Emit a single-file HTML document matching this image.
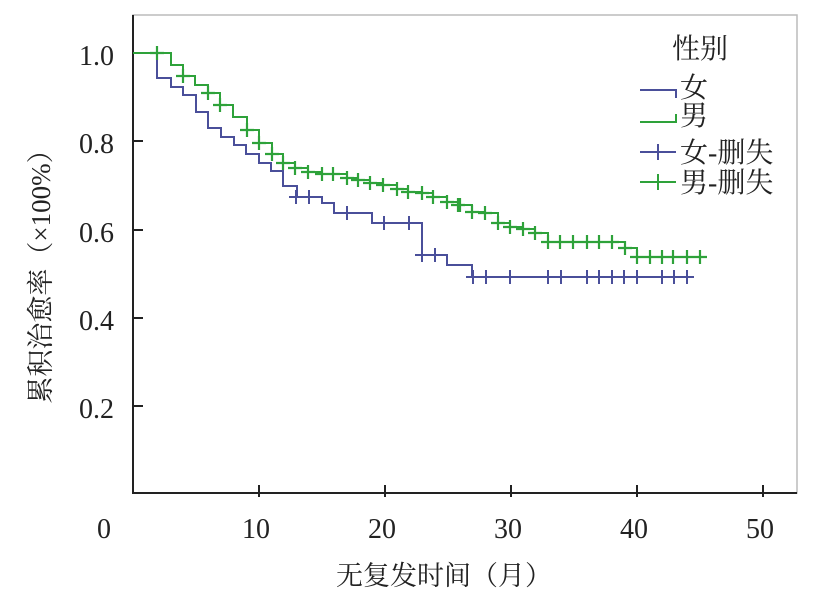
<!DOCTYPE html>
<html><head><meta charset="utf-8"><style>
html,body{margin:0;padding:0;background:#fff;}
svg{display:block;}
text{font-family:"Liberation Serif","Noto Serif CJK SC",serif;fill:#222;}
.c{font-family:"Liberation Serif","Noto Serif CJK SC",serif;}
</style></head><body>
<svg width="827" height="606" viewBox="0 0 827 606" xmlns="http://www.w3.org/2000/svg">
<rect x="133" y="15" width="664" height="478" fill="none" stroke="#bbb" stroke-width="1.5"/>
<line x1="133" y1="15" x2="133" y2="494" stroke="#222" stroke-width="2"/>
<line x1="132" y1="493" x2="797" y2="493" stroke="#222" stroke-width="2"/>
<g stroke="#222" stroke-width="2">
<line x1="133" y1="53" x2="143" y2="53"/><line x1="133" y1="141" x2="143" y2="141"/><line x1="133" y1="230" x2="143" y2="230"/><line x1="133" y1="318" x2="143" y2="318"/><line x1="133" y1="406" x2="143" y2="406"/>
<line x1="259" y1="485" x2="259" y2="497"/><line x1="385" y1="485" x2="385" y2="497"/><line x1="511" y1="485" x2="511" y2="497"/><line x1="637" y1="485" x2="637" y2="497"/><line x1="763" y1="485" x2="763" y2="497"/>
</g>
<g font-size="28" text-anchor="end">
<text x="114" y="65">1.0</text><text x="114" y="153">0.8</text><text x="114" y="242">0.6</text><text x="114" y="330">0.4</text><text x="114" y="418">0.2</text>
</g>
<g font-size="28" text-anchor="middle">
<text x="104" y="538">0</text><text x="256" y="538">10</text><text x="382" y="538">20</text><text x="508" y="538">30</text><text x="634" y="538">40</text><text x="760" y="538">50</text>
</g>
<text class="c" x="444" y="585" font-size="27" text-anchor="middle">无复发时间（月）</text>
<text class="c" transform="translate(50,270) rotate(-90)" font-size="27" text-anchor="middle">累积治愈率（×100%）</text>
<!-- blue -->
<path fill="none" stroke="#4a4f9a" stroke-width="2" d="M133,53 H157 V78 H171 V87 H183 V95 H196 V112 H208 V128 H221 V137 H234 V145 H246 V154 H259 V163 H271 V171 H283 V186 H297 V197 H322 V203 H334 V213 H372 V223 H422 V255 H447 V265 H472 V277 H690"/>
<g stroke="#4a4f9a" stroke-width="2">
<path d="M296,190v14M309,190v14M347,206v14M384,216v14M409,216v14M422,248v14M435,248v14M473,270v14M486,270v14M510,270v14M548,270v14M561,270v14M587,270v14M599,270v14M612,270v14M624,270v14M637,270v14M662,270v14M674,270v14M687,270v14"/>
</g>
<!-- green -->
<path fill="none" stroke="#2ea23a" stroke-width="2" d="M133,53 H171 V65 H183 V76 H195 V85 H208 V93 H220 V105 H233 V117 H247 V130 H259 V143 H272 V154 H283 V163 H295 V168 H308 V172 H322 V174 H347 V178 H358 V180 H370 V183 H383 V185 H397 V189 H408 V192 H422 V193 H433 V197 H447 V202 H460 V205 H472 V212 H485 V213 H498 V223 H510 V227 H523 V229 H535 V233 H548 V242 H625 V248 H637 V257 H703"/>
<g stroke="#2ea23a" stroke-width="2.2">
<path d="M157,46v14M183,69v14M208,86v14M220,98v14M247,123v14M259,136v14M272,147v14M283,156v14M295,161v14M308,165v14M322,167v14M333,167v14M347,171v14M358,173v14M370,176v14M383,178v14M397,182v14M408,185v14M422,186v14M433,190v14M447,195v14M458,198v14M460,198v14M472,205v14M485,206v14M498,216v14M510,220v14M523,222v14M535,226v14M548,235v14M560,235v14M573,235v14M587,235v14M599,235v14M612,235v14M625,241v14M637,250v14M650,250v14M662,250v14M673,250v14M687,250v14M700,250v14"/>
<path d="M150,53h14M176,76h14M201,93h14M213,105h14M240,130h14M252,143h14M265,154h14M276,163h14M288,168h14M301,172h14M315,174h14M326,174h14M340,178h14M351,180h14M363,183h14M376,185h14M390,189h14M401,192h14M415,193h14M426,197h14M440,202h14M451,205h14M465,212h14M478,213h14M491,223h14M503,227h14M516,229h14M528,233h14M541,242h14M553,242h14M566,242h14M580,242h14M592,242h14M605,242h14M618,248h14M630,257h14M643,257h14M655,257h14M666,257h14M680,257h14M693,257h14"/>
</g>
<g stroke="#4a4f9a" stroke-width="2">
<path d="M289,197h14M302,197h14M340,213h14M377,223h14M402,223h14M415,255h14M428,255h14M466,277h14M479,277h14M503,277h14M541,277h14M554,277h14M580,277h14M592,277h14M605,277h14M617,277h14M630,277h14M655,277h14M667,277h14M680,277h14"/>
</g>
<!-- legend -->
<text class="c" x="672" y="58" font-size="28">性别</text>
<path d="M640,90 H676 V98" fill="none" stroke="#4a4f9a" stroke-width="2"/>
<text class="c" x="680" y="97" font-size="28">女</text>
<path d="M640,122 H676 V114" fill="none" stroke="#2ea23a" stroke-width="2"/>
<text class="c" x="680" y="125" font-size="28">男</text>
<path d="M640,152h36M658,144v16" stroke="#4a4f9a" stroke-width="2"/>
<text class="c" x="680" y="162" font-size="28">女-删失</text>
<path d="M640,182h36M658,174v16" stroke="#2ea23a" stroke-width="2"/>
<text class="c" x="680" y="192" font-size="28">男-删失</text>
</svg>
</body></html>
